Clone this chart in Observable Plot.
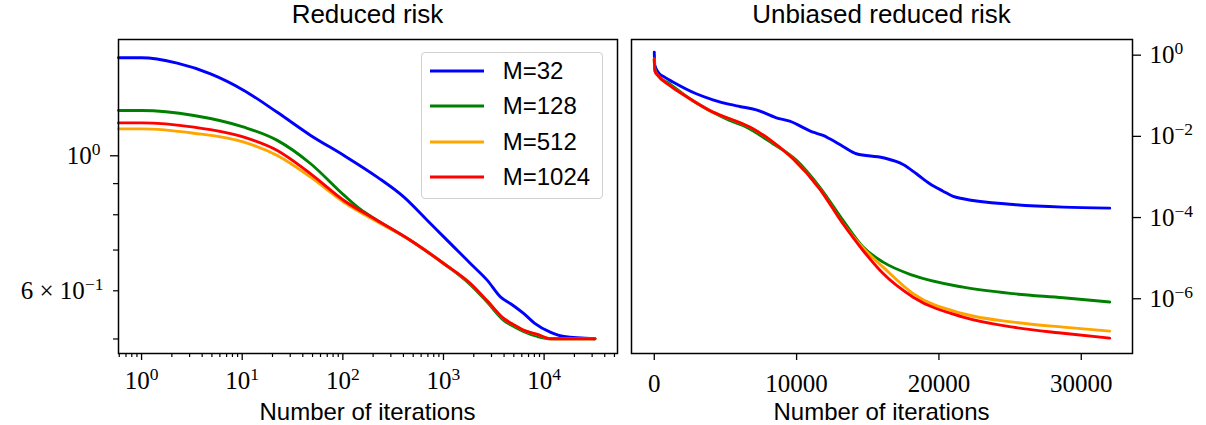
<!DOCTYPE html>
<html>
<head>
<meta charset="utf-8">
<script src="https://cdn.jsdelivr.net/npm/d3@7"></script>
<script src="https://cdn.jsdelivr.net/npm/@observablehq/plot@0.6"></script>
<style>
  html, body { margin: 0; padding: 0; background: #fff; }
  #wrap { position: relative; width: 1206px; height: 425px; overflow: hidden; }
  #wrap svg { position: absolute; top: 0; }
  .txt { position: absolute; font-family: "Liberation Sans", Arial, sans-serif; line-height: 1; white-space: nowrap; color: #000; }
  .ctr { transform: translateX(-50%); }
  #legend { position: absolute; left: 421px; top: 52px; width: 182px; height: 147px;
            border: 1px solid #d0d0d0; border-radius: 4px; background: rgba(255,255,255,0.8); box-sizing: border-box; }
</style>
</head>
<body>
<div id="wrap"></div>
<script>
// ---------------- data ----------------
const seriesNames = ["M=32", "M=128", "M=512", "M=1024"];
const seriesColors = ["blue", "green", "orange", "red"];

// Left panel: reduced risk (log-log)
const leftIterM32 = [0, 1, 2.26, 4.85, 10.4, 22.3, 47.9, 102.6, 220, 405, 692, 1012, 1483, 1862, 2730, 3706, 4650, 6300, 8000, 11640, 15780, 32000];
const leftRiskM32 = [1.438, 1.438, 1.409, 1.353, 1.271, 1.170, 1.072, 0.9936, 0.9155, 0.8487, 0.777, 0.7295, 0.685, 0.6597, 0.6194, 0.5813, 0.567, 0.546, 0.527, 0.5089, 0.5009, 0.4966];
const leftIterM128 = [0, 1, 3.31, 10.4, 22.3, 47.9, 102.6, 150, 220, 472, 1012, 1862, 2730, 3990, 5150, 6300, 8580, 11640, 32000];
const leftRiskM128 = [1.178, 1.178, 1.156, 1.106, 1.052, 0.963, 0.855, 0.810, 0.777, 0.7204, 0.6597, 0.609, 0.570, 0.532, 0.519, 0.510, 0.501, 0.4966, 0.4966];
const leftIterM512 = [0, 1, 3.31, 10.4, 22.3, 47.9, 102.6, 220, 472, 1012, 1862, 2730, 3990, 5150, 6300, 8580, 11640, 32000];
const leftRiskM512 = [1.099, 1.099, 1.081, 1.045, 0.9936, 0.9155, 0.8325, 0.773, 0.7204, 0.6597, 0.6114, 0.5727, 0.5357, 0.522, 0.5126, 0.5048, 0.4966, 0.4966];
const leftIterM1024 = [0, 1, 3.31, 10.4, 22.3, 47.9, 102.6, 220, 472, 1012, 1862, 2730, 3990, 5150, 6300, 8580, 11640, 32000];
const leftRiskM1024 = [1.124, 1.124, 1.106, 1.065, 1.0125, 0.927, 0.838, 0.777, 0.7204, 0.6597, 0.6114, 0.5727, 0.5357, 0.522, 0.5126, 0.5048, 0.4966, 0.4966];

// Right panel: unbiased reduced risk (linear x, log y)
const rightIterM32 = [0, 40, 300, 700, 1310, 2950, 4120, 5300, 6000, 7170, 8580, 9510, 11150, 11860, 12330, 13260, 14200, 16080, 17480, 18420, 19360, 20290, 21000, 21700, 25220, 28730, 32000];
const rightRiskM32 = [1.06, 0.50, 0.33, 0.26, 0.195, 0.1, 0.071, 0.0545, 0.0486, 0.0403, 0.0256, 0.0211, 0.0113, 0.0094, 0.00776, 0.00504, 0.00333, 0.00265, 0.00182, 0.00107, 0.000607, 0.000399, 0.000295, 0.000259, 0.000187, 0.000161, 0.000152];
const rightIterM128 = [0, 40, 250, 1080, 2500, 4120, 5300, 6230, 8340, 9990, 11620, 13260, 14670, 16080, 18190, 21700, 25220, 28730, 32000];
const rightRiskM128 = [0.75, 0.40, 0.29, 0.176, 0.0753, 0.0352, 0.022, 0.01656, 0.00586, 0.00228, 0.000501, 7.59e-5, 1.67e-5, 7.13e-6, 3.35e-6, 1.72e-6, 1.19e-6, 9.44e-7, 7.41e-7];
const rightIterM512 = [0, 40, 250, 1080, 2500, 4120, 5300, 6930, 8340, 9750, 11620, 13260, 14670, 16080, 18190, 21700, 25220, 28730, 32000];
const rightRiskM512 = [0.70, 0.37, 0.2825, 0.16, 0.0753, 0.0352, 0.0242, 0.01374, 0.00646, 0.00251, 0.000457, 6.31e-5, 1.58e-5, 5.37e-6, 1.19e-6, 3.81e-7, 2.37e-7, 1.78e-7, 1.42e-7];
const rightIterM1024 = [0, 40, 250, 1080, 2500, 4120, 5300, 6930, 8340, 9750, 11620, 13260, 14670, 16080, 18190, 21700, 25220, 28730, 32000];
const rightRiskM1024 = [0.70, 0.37, 0.2825, 0.16, 0.0753, 0.0352, 0.0242, 0.01374, 0.00646, 0.00251, 0.000457, 6.31e-5, 1.38e-5, 3.72e-6, 9.77e-7, 3.16e-7, 1.78e-7, 1.26e-7, 9.55e-8];

// tick values and labels
const leftXMajor = [1, 10, 100, 1000, 10000];
const leftXMajorLabels = ["10^0", "10^1", "10^2", "10^3", "10^4"];
const leftXMinor = [0.6, 0.7, 0.8, 0.9, 2, 3, 4, 5, 6, 7, 8, 9, 20, 30, 40, 50, 60, 70, 80, 90, 200, 300, 400, 500, 600, 700, 800, 900, 2000, 3000, 4000, 5000, 6000, 7000, 8000, 9000, 20000, 30000, 40000, 50000];
const leftYMajor = [1];
const leftYMajorLabels = ["10^0"];
const leftYMinor = [0.5, 0.6, 0.7, 0.8, 0.9];
const leftYMinorLabels = ["", "6 × 10^−1", "", "", ""];
const rightXTicks = [0, 10000, 20000, 30000];
const rightXLabels = ["0", "10000", "20000", "30000"];
const rightYTicks = [1, 1e-2, 1e-4, 1e-6];
const rightYLabels = ["10^0", "10^−2", "10^−4", "10^−6"];

const titles = ["Reduced risk", "Unbiased reduced risk"];
const xLabel = "Number of iterations";

// ---------------- build ----------------
function rows(iters, vals, series) {
  return iters.map((it, i) => ({iter: it, value: vals[i], series}));
}
const leftData = [
  ...rows(leftIterM32, leftRiskM32, seriesNames[0]),
  ...rows(leftIterM128, leftRiskM128, seriesNames[1]),
  ...rows(leftIterM512, leftRiskM512, seriesNames[2]),
  ...rows(leftIterM1024, leftRiskM1024, seriesNames[3])
];
const rightData = [
  ...rows(rightIterM32, rightRiskM32, seriesNames[0]),
  ...rows(rightIterM128, rightRiskM128, seriesNames[1]),
  ...rows(rightIterM512, rightRiskM512, seriesNames[2]),
  ...rows(rightIterM1024, rightRiskM1024, seriesNames[3])
];

const fmt = (ticks, labels) => (d) => { const i = ticks.indexOf(d); return i < 0 ? "" : labels[i]; };
const color = {domain: seriesNames, range: seriesColors};
const svgStyle = {fontFamily: "'Liberation Serif', 'Times New Roman', serif", fontSize: "25px", color: "black", background: "transparent", overflow: "visible"};
const lw = 2.9;

const leftXDomain = [0.59, 53600];
const left = Plot.plot({
  width: 630, height: 425,
  marginLeft: 118, marginRight: 13, marginTop: 39, marginBottom: 72,
  style: svgStyle,
  x: {type: "log", domain: leftXDomain},
  y: {type: "log", domain: [0.4697, 1.541]},
  color,
  marks: [
    Plot.line(leftData, {x: d => Math.max(d.iter, leftXDomain[0]), y: "value", z: "series", stroke: "series", strokeWidth: lw, curve: "monotone-x"}),
    Plot.axisX({ticks: leftXMinor, tickSize: 4, strokeWidth: 1.2, tickFormat: () => "", label: null}),
    Plot.axisX({ticks: leftXMajor, tickSize: 7, strokeWidth: 1.3, tickPadding: 11, tickFormat: fmt(leftXMajor, leftXMajorLabels), label: null}),
    Plot.axisY({ticks: leftYMinor, tickSize: 5, strokeWidth: 1.2, tickPadding: 10, dy: 2, tickFormat: fmt(leftYMinor, leftYMinorLabels), label: null}),
    Plot.axisY({ticks: leftYMajor, tickSize: 8, strokeWidth: 1.3, tickPadding: 10, dy: 2, tickFormat: fmt(leftYMajor, leftYMajorLabels), label: null}),
    Plot.frame({stroke: "black", strokeWidth: 1.5})
  ]
});

const right = Plot.plot({
  width: 576, height: 425,
  marginLeft: 1, marginRight: 74, marginTop: 39, marginBottom: 72,
  style: svgStyle,
  x: {type: "linear", domain: [-1600, 33600]},
  y: {type: "log", domain: [4.0e-8, 2.17]},
  color,
  marks: [
    Plot.line(rightData, {x: "iter", y: "value", z: "series", stroke: "series", strokeWidth: lw, curve: "monotone-x"}),
    Plot.axisX({ticks: rightXTicks, tickSize: 7, strokeWidth: 1.3, tickPadding: 14, tickFormat: fmt(rightXTicks, rightXLabels), label: null}),
    Plot.axisY({anchor: "right", ticks: rightYTicks, tickSize: 8, strokeWidth: 1.3, tickPadding: 9, dy: 2, tickFormat: fmt(rightYTicks, rightYLabels), label: null}),
    Plot.frame({stroke: "black", strokeWidth: 1.5})
  ]
});

function superscripts(svg) {
  svg.querySelectorAll("text").forEach(t => {
    const s = t.textContent;
    const k = s.indexOf("^");
    if (k < 0) return;
    t.textContent = s.slice(0, k);
    const sup = document.createElementNS("http://www.w3.org/2000/svg", "tspan");
    sup.setAttribute("dy", "-9");
    sup.setAttribute("font-size", "17.5");
    sup.textContent = s.slice(k + 1);
    t.appendChild(sup);
  });
}
superscripts(left);
superscripts(right);

const wrap = document.getElementById("wrap");
left.style.left = "0px";
right.style.left = "630px";
wrap.appendChild(left);
wrap.appendChild(right);

function addText(str, x, baseline, size) {
  const d = document.createElement("div");
  d.className = "txt ctr";
  d.textContent = str;
  d.style.fontSize = size + "px";
  d.style.left = x + "px";
  d.style.top = (baseline - 0.8465 * size) + "px";
  wrap.appendChild(d);
}
addText(titles[0], 367.5, 23.3, 26);
addText(titles[1], 881.5, 23.5, 26);
addText(xLabel, 367.5, 420, 24);
addText(xLabel, 881.5, 420, 24);

// legend
const legend = document.createElement("div");
legend.id = "legend";
wrap.appendChild(legend);
seriesNames.forEach((name, i) => {
  const cy = 70.7 + i * 35.5;
  const sw = document.createElementNS("http://www.w3.org/2000/svg", "svg");
  sw.setAttribute("width", 56); sw.setAttribute("height", 6);
  sw.style.position = "absolute";
  sw.style.left = (429 - 422) + "px";
  sw.style.top = (cy - 3 - 53) + "px";
  const ln = document.createElementNS("http://www.w3.org/2000/svg", "line");
  ln.setAttribute("x1", 1); ln.setAttribute("x2", 55); ln.setAttribute("y1", 3); ln.setAttribute("y2", 3);
  ln.setAttribute("stroke", seriesColors[i]); ln.setAttribute("stroke-width", lw);
  sw.appendChild(ln);
  legend.appendChild(sw);
  const t = document.createElement("div");
  t.className = "txt";
  t.textContent = name;
  t.style.fontSize = "24px";
  t.style.left = (502.7 - 422) + "px";
  t.style.top = (cy + 8.6 - 0.8465 * 24 - 53) + "px";
  legend.appendChild(t);
});
</script>
</body>
</html>
